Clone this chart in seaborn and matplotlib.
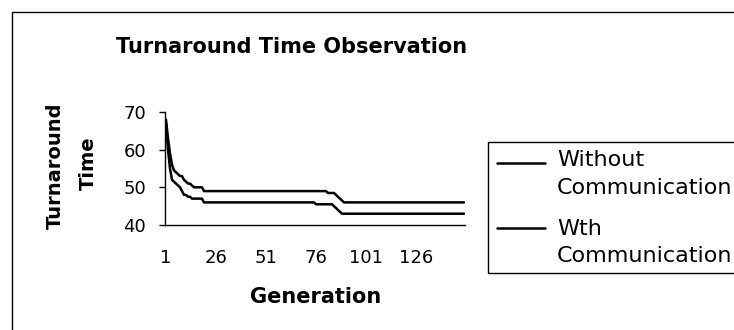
import matplotlib
matplotlib.use("Agg")
import matplotlib.pyplot as plt
import seaborn as sns
import pandas as pd
from matplotlib.patches import Rectangle
from matplotlib.lines import Line2D

sns.set_style("white")
plt.rcParams['font.family'] = ['DejaVu Sans']
plt.rcParams['text.color'] = 'black'
plt.rcParams['xtick.color'] = 'black'
plt.rcParams['ytick.color'] = 'black'

generations = list(range(1, 151))

without_comm = (
    [68, 63, 59, 56, 54.5, 54, 53.5, 53, 53, 52, 51.5, 51, 51, 50.5,
     50, 50, 50, 50, 50]
    + [49] * 62
    + [48.5, 48.5, 48.5, 48.5, 48, 47.5, 47, 46.5]
    + [46] * 61
)
with_comm = (
    [67, 60, 55, 52, 51.5, 51, 50.5, 50, 49, 48, 48, 47.5, 47.5, 47,
     47, 47, 47, 47, 47]
    + [46] * 56
    + [45.5] * 9
    + [45, 44.5, 44, 43.5]
    + [43] * 62
)
series_names = ["Without\nCommunication", "Wth\nCommunication"]
yticks = [40, 50, 60, 70]
xticks = [1, 26, 51, 76, 101, 126]

df = pd.concat([
    pd.DataFrame({"Generation": generations, "Time": without_comm, "Series": series_names[0]}),
    pd.DataFrame({"Generation": generations, "Time": with_comm, "Series": series_names[1]}),
])

fig = plt.figure(figsize=(7.34, 3.30), dpi=100)
ax = fig.add_axes([165/734, 1-225/330, 300/734, 113/330])

sns.lineplot(data=df, x="Generation", y="Time", hue="Series",
             palette=["black", "black"], linewidth=1.8, ax=ax, legend=False)

ax.set_xlim(0.5, 150.5)
ax.set_ylim(40, 70)
ax.set_yticks(yticks)
ax.set_xticks(xticks)
ax.set_xlabel("")
ax.set_ylabel("")
for s in ["top", "right"]:
    ax.spines[s].set_visible(False)
for s in ["left", "bottom"]:
    ax.spines[s].set_color("black")
    ax.spines[s].set_linewidth(1.0)
ax.tick_params(axis="y", direction="out", length=4.5, width=1, color="black",
               labelsize=13, pad=9, left=True)
ax.tick_params(axis="x", length=0, labelsize=13, pad=17)

fig.text(292/734, 1-47/330, "Turnaround Time Observation", ha="center", va="center",
         fontsize=15, fontweight="bold")
fig.text(55/734, 1-166/330, "Turnaround", rotation=90, ha="center", va="center",
         fontsize=14, fontweight="bold")
fig.text(88/734, 1-163/330, "Time", rotation=90, ha="center", va="center",
         fontsize=14, fontweight="bold")
fig.text(316/734, 1-297/330, "Generation", ha="center", va="center",
         fontsize=15, fontweight="bold")

# legend (frame, sample lines and labels placed like the original)
fig.patches.append(Rectangle((488/734, 1-273/330), 260/734, 131/330,
                             transform=fig.transFigure, fill=False,
                             edgecolor="black", linewidth=1.0))
legend_line_y = [163, 228]
legend_text_y = [(160, 188), (229, 256)]
for name, ly, (ty1, ty2) in zip(series_names, legend_line_y, legend_text_y):
    fig.add_artist(Line2D([497/734, 545/734], [1-ly/330, 1-ly/330],
                          transform=fig.transFigure, color="black", lw=1.8))
    first, second = name.split("\n")
    fig.text(557/734, 1-ty1/330, first, ha="left", va="center", fontsize=16)
    fig.text(557/734, 1-ty2/330, second, ha="left", va="center", fontsize=16)

fig.patches.append(Rectangle((12/734, -0.5), 2, 1.5 - 12/330, transform=fig.transFigure,
                             fill=False, edgecolor="black", linewidth=1.0))

fig.savefig("out.png", dpi=100)
